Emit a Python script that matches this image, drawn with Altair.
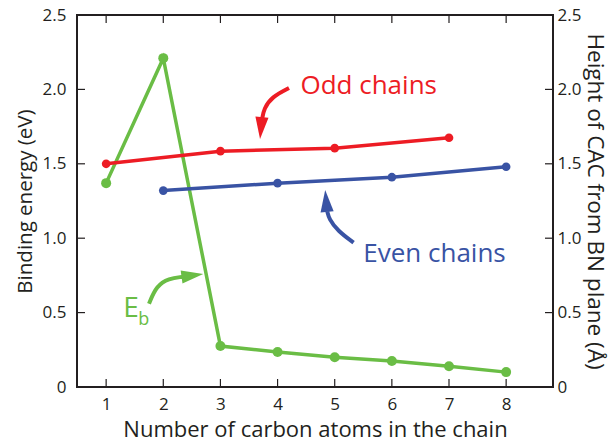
import altair as alt
import pandas as pd

# ---- data ----
eb_n = [1, 2, 3, 4, 5, 6, 7, 8]
eb_val = [1.37, 2.21, 0.275, 0.235, 0.2, 0.175, 0.14, 0.1]
odd_n = [1, 3, 5, 7]
odd_h = [1.5, 1.585, 1.605, 1.675]
even_n = [2, 4, 6, 8]
even_h = [1.32, 1.37, 1.41, 1.48]
x_ticks = [1, 2, 3, 4, 5, 6, 7, 8]
y_ticks = [0.5, 1.0, 1.5, 2.0]

# annotation arrows (data coords)
odd_arrow_x = [4.20, 3.90, 3.76, 3.73]
odd_arrow_y = [2.01, 1.95, 1.87, 1.80]
even_arrow_x = [5.33, 5.05, 4.90, 4.87]
even_arrow_y = [0.97, 1.05, 1.13, 1.18]
eb_arrow_x = [1.75, 1.88, 2.10, 2.33]
eb_arrow_y = [0.56, 0.68, 0.73, 0.74]
head_x = [3.71, 4.85, 2.51]
head_y = [1.74, 1.25, 0.75]
head_angle = [185, 355, 82]
head_color = ["#ed1c24", "#3953a4", "#6abd45"]

RED = "#ed1c24"
BLUE = "#3953a4"
GREEN = "#6abd45"
INK = "#231f20"
FONT = "Open Sans"
W, H = 476, 372

xs = alt.Scale(domain=[0.49, 8.82], nice=False, zero=False)
ys = alt.Scale(domain=[0, 2.5], nice=False, zero=False)

eb_df = pd.DataFrame({"n": eb_n, "v": eb_val})
odd_df = pd.DataFrame({"n": odd_n, "v": odd_h})
even_df = pd.DataFrame({"n": even_n, "v": even_h})

yl = alt.Y("v:Q", scale=ys, axis=alt.Axis(
    title="Binding energy (eV)", values=[0, 0.5, 1.0, 1.5, 2.0, 2.5],
    labelExpr="datum.value == 0 ? '0' : format(datum.value, '.1f')",
    grid=False, ticks=False, domain=False, labelPadding=11, titleFontSize=20.5,
    titleX=-52, titleY=H / 2, titleAngle=-90, titleBaseline="middle", titleAlign="center"))
x_enc = alt.X("n:Q", scale=xs, axis=alt.Axis(
    title="Number of carbon atoms in the chain", values=x_ticks, format="d",
    grid=False, ticks=False, domain=False, labelPadding=9, titleFontSize=22,
    titleY=49, titleBaseline="alphabetic"))

eb_line = alt.Chart(eb_df).mark_line(color=GREEN, strokeWidth=3.5).encode(x=x_enc, y=yl)
eb_pts = alt.Chart(eb_df).mark_circle(color=GREEN, size=100, opacity=1).encode(x="n:Q", y="v:Q")
left = alt.layer(eb_line, eb_pts)

yr_axis = alt.Axis(
    title="Height of CAC from BN plane (Å)", values=[0, 0.5, 1.0, 1.5, 2.0, 2.5],
    labelExpr="datum.value == 0 ? '0' : format(datum.value, '.1f')",
    grid=False, ticks=False, domain=False, labelPadding=4, orient="right", titleFontSize=22.5,
    titleX=41, titleY=H / 2, titleAngle=90, titleBaseline="middle", titleAlign="center")
yr = alt.Y("v:Q", scale=ys, axis=yr_axis)

odd_line = alt.Chart(odd_df).mark_line(color=RED, strokeWidth=3.5).encode(x="n:Q", y=yr)
odd_pts = alt.Chart(odd_df).mark_circle(color=RED, size=75, opacity=1).encode(x="n:Q", y="v:Q")
even_line = alt.Chart(even_df).mark_line(color=BLUE, strokeWidth=3.5).encode(x="n:Q", y="v:Q")
even_pts = alt.Chart(even_df).mark_circle(color=BLUE, size=75, opacity=1).encode(x="n:Q", y="v:Q")

def arrow(xv, yv, color):
    d = pd.DataFrame({"n": xv, "v": yv, "o": list(range(len(xv)))})
    return alt.Chart(d).mark_line(color=color, strokeWidth=4, interpolate="basis").encode(
        x="n:Q", y="v:Q", order="o:Q")

heads = alt.Chart(pd.DataFrame({"n": head_x, "v": head_y, "a": head_angle, "c": head_color})).mark_point(
    shape="M0,-1L0.6,1L-0.6,1Z", filled=True, size=480, opacity=1, strokeWidth=0
).encode(x="n:Q", y="v:Q", angle=alt.Angle("a:Q", scale=None), color=alt.Color("c:N", scale=None))

txt_df = pd.DataFrame({
    "n": [4.40, 5.50, 1.30, 1.56],
    "v": [1.97, 0.84, 0.47, 0.42],
    "t": ["Odd chains", "Even chains", "E", "b"],
    "c": [RED, BLUE, GREEN, GREEN],
    "s": [26, 26, 28, 18],
})
texts = alt.Chart(txt_df).mark_text(align="left", baseline="alphabetic", font=FONT).encode(
    x="n:Q", y="v:Q", text="t:N", color=alt.Color("c:N", scale=None), size=alt.Size("s:Q", scale=None))

# inward tick marks
xt_df = pd.DataFrame({"n": x_ticks})
yt_df = pd.DataFrame({"v": y_ticks})
tb = alt.Chart(xt_df).mark_rule(color=INK, strokeWidth=1.2).encode(x="n:Q", y=alt.value(H), y2=alt.value(H - 8))
tt = alt.Chart(xt_df).mark_rule(color=INK, strokeWidth=1.2).encode(x="n:Q", y=alt.value(0), y2=alt.value(8))
tl = alt.Chart(yt_df).mark_rule(color=INK, strokeWidth=1.2).encode(y="v:Q", x=alt.value(0), x2=alt.value(8))
tr = alt.Chart(yt_df).mark_rule(color=INK, strokeWidth=1.2).encode(y="v:Q", x=alt.value(W), x2=alt.value(W - 8))

right = alt.layer(odd_line, odd_pts, even_line, even_pts,
                  arrow(odd_arrow_x, odd_arrow_y, RED),
                  arrow(even_arrow_x, even_arrow_y, BLUE),
                  arrow(eb_arrow_x, eb_arrow_y, GREEN),
                  heads, texts, tb, tt, tl, tr)

chart = alt.layer(left, right).resolve_scale(y="independent").properties(
    width=W, height=H,
    background="white",
    autosize=alt.AutoSizeParams(type="none"),
    padding={"left": 77, "top": 15, "right": 61, "bottom": 55},
).configure_view(stroke=INK, strokeWidth=2).configure_axis(
    labelFont=FONT, titleFont=FONT, labelFontSize=17, titleFontSize=20,
    labelColor=INK, titleColor=INK, titleFontWeight="normal"
)

chart.save("out.html", embed_options={"renderer": "svg", "actions": False})
